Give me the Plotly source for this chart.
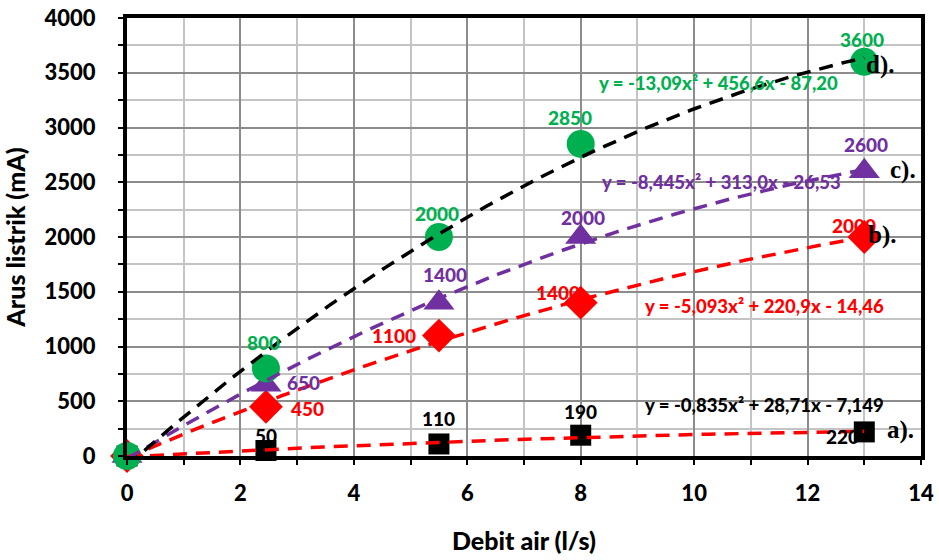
import plotly.graph_objects as go
import numpy as np

# ---- data ----
x_vals = [0, 2.45, 5.5, 8, 13]
a_vals = [0, 50, 110, 190, 220]        # black squares
b_vals = [0, 450, 1100, 1400, 2000]    # red diamonds
c_vals = [0, 650, 1400, 2000, 2600]    # purple triangles
d_vals = [0, 800, 2000, 2850, 3600]    # green circles

# polynomial trendline coefficients (as printed on chart): a2, a1, a0
coef_a = [-0.835, 28.71, -7.149]
coef_b = [-5.093, 220.9, -14.46]
coef_c = [-8.445, 313.0, -26.53]
coef_d = [-13.09, 456.6, -87.20]

eq_a = "y = -0,835x² + 28,71x - 7,149"
eq_b = "y = -5,093x² + 220,9x - 14,46"
eq_c = "y = -8,445x² + 313,0x - 26,53"
eq_d = "y = -13,09x² + 456,6x - 87,20"

GREEN = "#00B050"
PURPLE = "#7030A0"
RED = "#FF0000"
BLACK = "#000000"
FONT = "Lato"

fig = go.Figure()

# markers
fig.add_trace(go.Scatter(x=x_vals, y=a_vals, mode="markers",
                         marker=dict(symbol="square", size=21, color=BLACK), cliponaxis=False))
fig.add_trace(go.Scatter(x=x_vals, y=b_vals, mode="markers",
                         marker=dict(symbol="diamond", size=26, color=RED), cliponaxis=False))
fig.add_trace(go.Scatter(x=x_vals, y=c_vals, mode="markers",
                         marker=dict(symbol="triangle-up", size=27, color=PURPLE), cliponaxis=False))
fig.add_trace(go.Scatter(x=x_vals, y=d_vals, mode="markers",
                         marker=dict(symbol="circle", size=28, color=GREEN), cliponaxis=False))

# trendlines
xt = np.linspace(0, 13, 200)
for coef, col in [(coef_a, RED), (coef_b, RED), (coef_c, PURPLE), (coef_d, BLACK)]:
    yt = np.polyval(coef, xt)
    fig.add_trace(go.Scatter(x=xt, y=yt, mode="lines",
                             line=dict(color=col, width=3.5, dash="14px,9px"), cliponaxis=True))

# data labels (xshift, yshift in px)
lab_a = [None, (0, 15), (0, 25), (0, 24), (-22, -5)]
lab_b = [None, (42, -2), (-45, 0), (-23, 10), (-10, 12)]
lab_c = [None, (38, 2), (6, 28), (2, 20), (2, 27)]
lab_d = [None, (-2, 26), (-2, 24), (-11, 26), (-2, 22)]
for vals, labs, col in [(a_vals, lab_a, BLACK), (b_vals, lab_b, RED),
                        (c_vals, lab_c, PURPLE), (d_vals, lab_d, GREEN)]:
    for xv, yv, lb in zip(x_vals, vals, labs):
        if lb is None:
            continue
        fig.add_annotation(x=xv, y=yv, text=str(yv), showarrow=False,
                           xshift=lb[0], yshift=lb[1],
                           font=dict(family=FONT, size=19, color=col, weight=900))

# equations
for txt, xp, yp, col in [(eq_d, 10.43, 3406, GREEN), (eq_c, 10.48, 2502, PURPLE),
                         (eq_b, 11.24, 1370, RED), (eq_a, 11.24, 466, BLACK)]:
    fig.add_annotation(x=xp, y=yp, text=txt, showarrow=False,
                       font=dict(family=FONT, size=18.5, color=col, weight=900))

# series tags
for txt, xp, yp in [("d).", 13.28, 3570), ("c).", 13.68, 2612),
                    ("b).", 13.31, 2018), ("a).", 13.64, 237)]:
    fig.add_annotation(x=xp, y=yp, text=txt, showarrow=False,
                       font=dict(family="Liberation Serif", size=25, color=BLACK, weight="bold"))

fig.update_layout(
    width=939, height=560,
    margin=dict(l=127, r=18, t=18, b=104),
    plot_bgcolor="white", paper_bgcolor="white",
    showlegend=False,
    font=dict(family=FONT, color="black"),
    xaxis=dict(range=[0, 14], dtick=2, tick0=0, automargin=False,
               showline=True, linecolor="black", linewidth=4, mirror=True,
               ticks="outside", ticklen=5, tickwidth=2, tickcolor="black",
               showgrid=True, gridcolor="#8c8c8c", gridwidth=1.6, zeroline=False,
               minor=dict(dtick=1, showgrid=True, gridcolor="#c4c4c4", gridwidth=1.6,
                          ticks="outside", ticklen=5, tickwidth=2, tickcolor="black"),
               tickfont=dict(family=FONT, size=22, color="black", weight=900),
               ticklabelstandoff=10,
               title=dict(text="Debit air (l/s)", standoff=28,
                          font=dict(family=FONT, size=25, color="black", weight=900))),
    yaxis=dict(range=[0, 4000], dtick=500, tick0=0, automargin=False,
               showline=True, linecolor="black", linewidth=4, mirror=True,
               ticks="outside", ticklen=5, tickwidth=2, tickcolor="black",
               showgrid=True, gridcolor="#8c8c8c", gridwidth=1.6, zeroline=False,
               minor=dict(dtick=250, showgrid=True, gridcolor="#c4c4c4", gridwidth=1.6,
                          ticks="outside", ticklen=5, tickwidth=2, tickcolor="black"),
               tickfont=dict(family=FONT, size=22, color="black", weight=900),
               ticklabelstandoff=18,
               title=dict(text="Arus listrik (mA)", standoff=14,
                          font=dict(family=FONT, size=25, color="black", weight=900))),
)

fig.write_html("out.html")
